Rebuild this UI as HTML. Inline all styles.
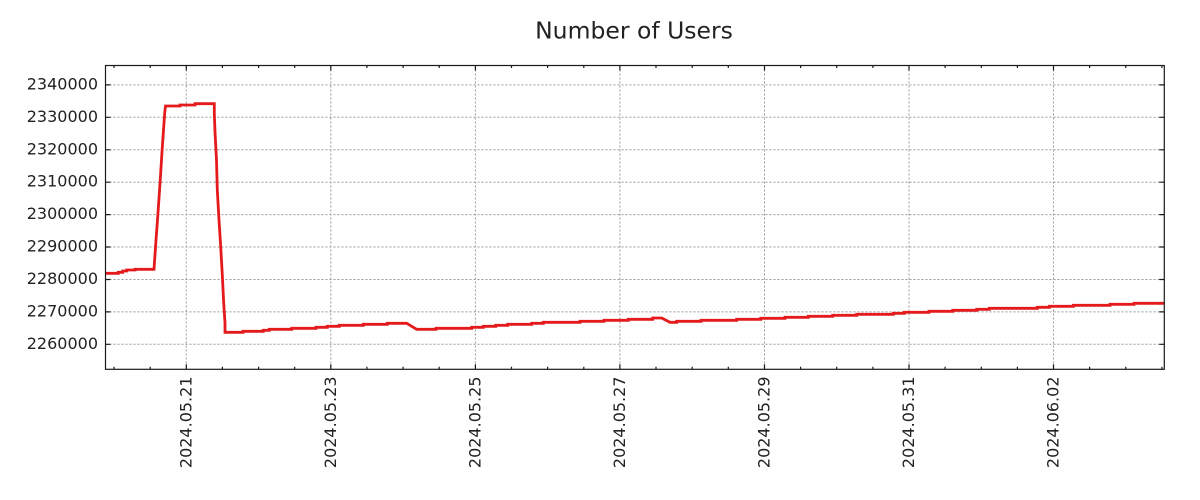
<!DOCTYPE html>
<html>
<head>
<meta charset="utf-8">
<style>
html,body{margin:0;padding:0;background:#fff;}
svg{display:block;}
text{font-family:"DejaVu Sans","Liberation Sans",sans-serif;fill:#222;}
</style>
</head>
<body>
<svg width="1200" height="500" viewBox="0 0 1200 500" xmlns="http://www.w3.org/2000/svg">
<rect x="0" y="0" width="1200" height="500" fill="#fff"/>
<text x="634" y="38.5" font-size="23.5" text-anchor="middle">Number of Users</text>

<g stroke="#999" stroke-width="1" stroke-dasharray="2,2" fill="none">
<line x1="105.5" y1="84.9" x2="1164.3" y2="84.9"/>
<line x1="105.5" y1="117.3" x2="1164.3" y2="117.3"/>
<line x1="105.5" y1="149.8" x2="1164.3" y2="149.8"/>
<line x1="105.5" y1="182.2" x2="1164.3" y2="182.2"/>
<line x1="105.5" y1="214.6" x2="1164.3" y2="214.6"/>
<line x1="105.5" y1="247.0" x2="1164.3" y2="247.0"/>
<line x1="105.5" y1="279.5" x2="1164.3" y2="279.5"/>
<line x1="105.5" y1="311.9" x2="1164.3" y2="311.9"/>
<line x1="105.5" y1="344.3" x2="1164.3" y2="344.3"/>
<line x1="186.3" y1="65.5" x2="186.3" y2="369.3"/>
<line x1="330.8" y1="65.5" x2="330.8" y2="369.3"/>
<line x1="475.4" y1="65.5" x2="475.4" y2="369.3"/>
<line x1="619.9" y1="65.5" x2="619.9" y2="369.3"/>
<line x1="764.5" y1="65.5" x2="764.5" y2="369.3"/>
<line x1="909.0" y1="65.5" x2="909.0" y2="369.3"/>
<line x1="1053.5" y1="65.5" x2="1053.5" y2="369.3"/>
</g>

<clipPath id="pc"><rect x="105.5" y="65.5" width="1058.8" height="303.8"/></clipPath>
<polyline clip-path="url(#pc)" fill="none" stroke="#e41a1c" stroke-width="2.8" stroke-linejoin="miter"
points="104,273.3 118.3,273.3 118.3,272.3 122.7,272.3 122.7,271 126.7,271 126.7,270 135,270 135,269.3 154,269.3
154.5,262 156,240 157.5,220 159,198 160.5,176 162,152 163.5,130 164.7,113 165.5,106
180,106 180,105 195,105 195,103.7 214.3,103.7
214.3,113 215,131.7 216.5,160 217.3,190 219,220 220.7,246.7 222.3,275 223.7,303 225,323 225,332.3
243,332.3 243,331.3 263.3,331.3 263.3,330.3 269.3,330.3 269.3,329.3 291.7,329.3 291.7,328.3 316,328.3 316,327.3
327.3,327.3 327.3,326.3 339.3,326.3 339.3,325.3 363.3,325.3 363.3,324.3 387.3,324.3 387.3,323.3 406.7,323.3
416.7,329.3 436,329.3 436,328.3 471.7,328.3 471.7,327.3 483.3,327.3 483.3,326.3 495.7,326.3 495.7,325.3
507.7,325.3 507.7,324.3 531.7,324.3 531.7,323.3 543.3,323.3 543.3,322.3 580,322.3 580,321.3 604,321.3 604,320.3
628.3,320.3 628.3,319.3 652.7,319.3 652.7,318 661.7,318 670,322.3 676.7,322.3 676.7,321.3 701,321.3 701,320.3
736.7,320.3 736.7,319.3 760.7,319.3 760.7,318.3 785,318.3 785,317.3 808.3,317.3 808.3,316.3 832.7,316.3 832.7,315.3
856.7,315.3 856.7,314.3 893.3,314.3 893.3,313.3 904.3,313.3 904.3,312.3 929,312.3 929,311.3 952.7,311.3 952.7,310.3
976.7,310.3 976.7,309.3 989.3,309.3 989.3,308.3 1037.3,308.3 1037.3,307.3 1049.3,307.3 1049.3,306.3 1073.3,306.3 1073.3,305.3
1110,305.3 1110,304.3 1134,304.3 1134,303.3 1166,303.3"/>

<g stroke="#1a1a1a" stroke-width="1.2" fill="none">
<rect x="105.5" y="65.5" width="1058.8" height="303.8"/>
<!-- y ticks left & right -->
<path d="M105.5 84.9h5M105.5 117.3h5M105.5 149.8h5M105.5 182.2h5M105.5 214.6h5M105.5 247h5M105.5 279.5h5M105.5 311.9h5M105.5 344.3h5"/>
<path d="M1164.3 84.9h-5M1164.3 117.3h-5M1164.3 149.8h-5M1164.3 182.2h-5M1164.3 214.6h-5M1164.3 247h-5M1164.3 279.5h-5M1164.3 311.9h-5M1164.3 344.3h-5"/>
<!-- x major ticks -->
<path d="M186.3 369.3v-5M330.8 369.3v-5M475.4 369.3v-5M619.9 369.3v-5M764.5 369.3v-5M909 369.3v-5M1053.5 369.3v-5"/>
<path d="M186.3 65.5v5M330.8 65.5v5M475.4 65.5v5M619.9 65.5v5M764.5 65.5v5M909 65.5v5M1053.5 65.5v5"/>
<!-- x minor ticks -->
<path d="M114 369.3v-2.5M150.2 369.3v-2.5M222.4 369.3v-2.5M258.6 369.3v-2.5M294.7 369.3v-2.5M366.9 369.3v-2.5M403.1 369.3v-2.5M439.2 369.3v-2.5M511.5 369.3v-2.5M547.6 369.3v-2.5M583.8 369.3v-2.5M656 369.3v-2.5M692.2 369.3v-2.5M728.3 369.3v-2.5M800.6 369.3v-2.5M836.7 369.3v-2.5M872.9 369.3v-2.5M945.1 369.3v-2.5M981.3 369.3v-2.5M1017.4 369.3v-2.5M1089.6 369.3v-2.5M1125.8 369.3v-2.5M1161.9 369.3v-2.5"/>
<path d="M114 65.5v2.5M150.2 65.5v2.5M222.4 65.5v2.5M258.6 65.5v2.5M294.7 65.5v2.5M366.9 65.5v2.5M403.1 65.5v2.5M439.2 65.5v2.5M511.5 65.5v2.5M547.6 65.5v2.5M583.8 65.5v2.5M656 65.5v2.5M692.2 65.5v2.5M728.3 65.5v2.5M800.6 65.5v2.5M836.7 65.5v2.5M872.9 65.5v2.5M945.1 65.5v2.5M981.3 65.5v2.5M1017.4 65.5v2.5M1089.6 65.5v2.5M1125.8 65.5v2.5M1161.9 65.5v2.5"/>
</g>

<g font-size="16" text-anchor="end">
<text x="98" y="89.4">2340000</text>
<text x="98" y="121.8">2330000</text>
<text x="98" y="154.3">2320000</text>
<text x="98" y="186.7">2310000</text>
<text x="98" y="219.1">2300000</text>
<text x="98" y="251.5">2290000</text>
<text x="98" y="284">2280000</text>
<text x="98" y="316.4">2270000</text>
<text x="98" y="348.8">2260000</text>
</g>

<g font-size="16" text-anchor="end">
<text transform="translate(191.5,376.5) rotate(-90)">2024.05.21</text>
<text transform="translate(336,376.5) rotate(-90)">2024.05.23</text>
<text transform="translate(480.6,376.5) rotate(-90)">2024.05.25</text>
<text transform="translate(625.1,376.5) rotate(-90)">2024.05.27</text>
<text transform="translate(769.7,376.5) rotate(-90)">2024.05.29</text>
<text transform="translate(914.2,376.5) rotate(-90)">2024.05.31</text>
<text transform="translate(1058.7,376.5) rotate(-90)">2024.06.02</text>
</g>
</svg>
</body>
</html>
